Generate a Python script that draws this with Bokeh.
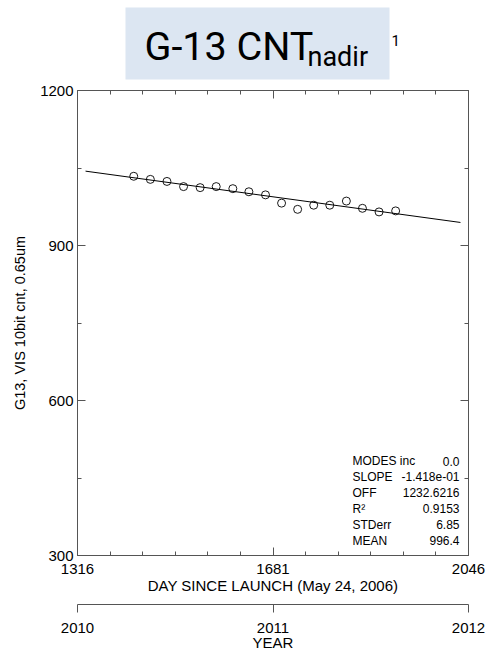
from bokeh.plotting import figure
from bokeh.models import Range1d, LinearAxis, FixedTicker, Label
from bokeh.layouts import column
from bokeh.core.properties import value
from bokeh.embed import file_html
from bokeh.resources import INLINE
import numpy as np

# ---- data ----
days = [1421, 1452, 1483, 1514, 1545, 1575, 1606, 1636, 1667,
        1697, 1727, 1757, 1787, 1818, 1848, 1879, 1910]
counts = [1034, 1028, 1024, 1014, 1012, 1014, 1010, 1004, 998,
          982, 970, 978, 978, 986, 972, 965, 967]
fit_days = [1331, 2031]
fit_counts = [1043.9, 944.6]

day_ticks = [1316, 1681, 2046]
count_ticks = [300, 600, 900, 1200]
count_minor = [450, 750, 1050]
year_ticks = [2010, 2011, 2012]

stat_names = ["MODES inc", "SLOPE", "OFF", "R\u00b2", "STDerr", "MEAN"]
stat_values = ["0.0", "-1.418e-01", "1232.6216", "0.9153", "6.85", "996.4"]

FONT = "Liberation Sans"
TFONT = "Roboto"
AX = "#555555"

# ---- title block (its frame is aligned with the chart frame: 77..468 px) ----
pt = figure(width=487, height=80, x_range=Range1d(77, 468), y_range=Range1d(80, 0),
            toolbar_location=None, output_backend="svg", x_axis_type=None, y_axis_type=None,
            min_border_left=77, min_border_right=19, min_border_top=0, min_border_bottom=0)
pt.grid.visible = False
pt.outline_line_color = None
pt.quad(left=[125], right=[389], top=[7], bottom=[79], fill_color="#dce6f2", line_color=None)
pt.text(x=[144], y=[45.5], text=["G-13 CNT"], text_font=value(TFONT), text_font_size="39.5px",
        text_baseline="middle", text_align="left", text_color="#000000")
pt.text(x=[307], y=[56.5], text=["nadir"], text_font=value(TFONT), text_font_size="27px",
        text_baseline="middle", text_align="left", text_color="#000000")
pt.text(x=[391], y=[39.9], text=["1"], text_font=value(TFONT), text_font_size="15px",
        text_baseline="middle", text_align="left", text_color="#000000")

# ---- main chart ----
p = figure(width=487, height=573, x_range=Range1d(1316, 2046), y_range=Range1d(300, 1200),
           toolbar_location=None, output_backend="svg",
           min_border_left=77, min_border_right=19, min_border_top=10, min_border_bottom=98)
p.grid.visible = False
p.outline_line_color = None
p.background_fill_color = "white"

minor_days = list(np.linspace(1316, 2046, 13))


def style(ax, labels=True):
    ax.axis_line_color = AX
    ax.major_tick_line_color = AX
    ax.minor_tick_line_color = AX
    ax.major_tick_in = 8
    ax.major_tick_out = 0
    ax.minor_tick_in = 4
    ax.minor_tick_out = 0
    ax.major_label_text_font = FONT
    ax.major_label_text_font_size = "15px" if labels else "0px"
    ax.major_label_text_color = "#000000"
    ax.axis_label_text_font = FONT
    ax.axis_label_text_font_size = "15px"
    ax.axis_label_text_font_style = "normal"
    ax.axis_label_text_color = "#000000"


xa = p.xaxis[0]
xa.ticker = FixedTicker(ticks=day_ticks, minor_ticks=minor_days)
style(xa)
xa.major_label_standoff = 8
xa.axis_label = "DAY SINCE LAUNCH (May 24, 2006)"
xa.axis_label_standoff = 0

ya = p.yaxis[0]
ya.ticker = FixedTicker(ticks=count_ticks, minor_ticks=count_minor)
style(ya)
ya.major_label_standoff = 4
ya.axis_label = "G13, VIS 10bit cnt, 0.65um"
ya.axis_label_text_font_size = "14.5px"
ya.axis_label_standoff = 9

top = LinearAxis(ticker=FixedTicker(ticks=day_ticks, minor_ticks=minor_days))
style(top, labels=False)
top.major_label_standoff = 0
top.major_label_overrides = {t: "" for t in day_ticks}
p.add_layout(top, "above")

right = LinearAxis(ticker=FixedTicker(ticks=count_ticks, minor_ticks=count_minor))
style(right, labels=False)
right.major_label_standoff = 0
right.major_label_overrides = {t: "" for t in count_ticks}
p.add_layout(right, "right")

# spacer between the two bottom axes: one white (invisible) outward tick gives it height
spacer = LinearAxis(ticker=FixedTicker(ticks=[day_ticks[0]], minor_ticks=[]),
                    axis_line_color=None,
                    major_tick_line_color="white", minor_tick_line_color=None,
                    major_tick_out=8, major_tick_in=0, minor_tick_out=0, minor_tick_in=0,
                    major_label_standoff=0, major_label_text_font_size="0px",
                    major_label_overrides={day_ticks[0]: ""})
p.add_layout(spacer, "below")

p.extra_x_ranges = {"year": Range1d(2010, 2012)}
ya2 = LinearAxis(x_range_name="year", ticker=FixedTicker(ticks=year_ticks, minor_ticks=[]))
style(ya2)
ya2.major_tick_in = 0
ya2.major_tick_out = 8
ya2.major_label_standoff = 10
ya2.axis_label = "YEAR"
ya2.axis_label_standoff = -2
p.add_layout(ya2, "below")

p.line(fit_days, fit_counts, line_color="#000000", line_width=1)
p.scatter(days, counts, marker="circle", size=8, fill_color=None,
          line_color="#000000", line_width=0.9)

# stats block (frame-relative screen units)
for i, (n, v) in enumerate(zip(stat_names, stat_values)):
    yy = 94.5 - i * 15.9
    p.add_layout(Label(x=275, y=yy, x_units="screen", y_units="screen", text=n,
                       text_font=FONT, text_font_size="12px", text_baseline="middle",
                       text_align="left", text_color="#000000"))
    p.add_layout(Label(x=382, y=yy, x_units="screen", y_units="screen", text=v,
                       text_font=FONT, text_font_size="12px", text_baseline="middle",
                       text_align="right", text_color="#000000"))

layout = column(pt, p, spacing=0)
open("out.html", "w").write(file_html(layout, INLINE))
